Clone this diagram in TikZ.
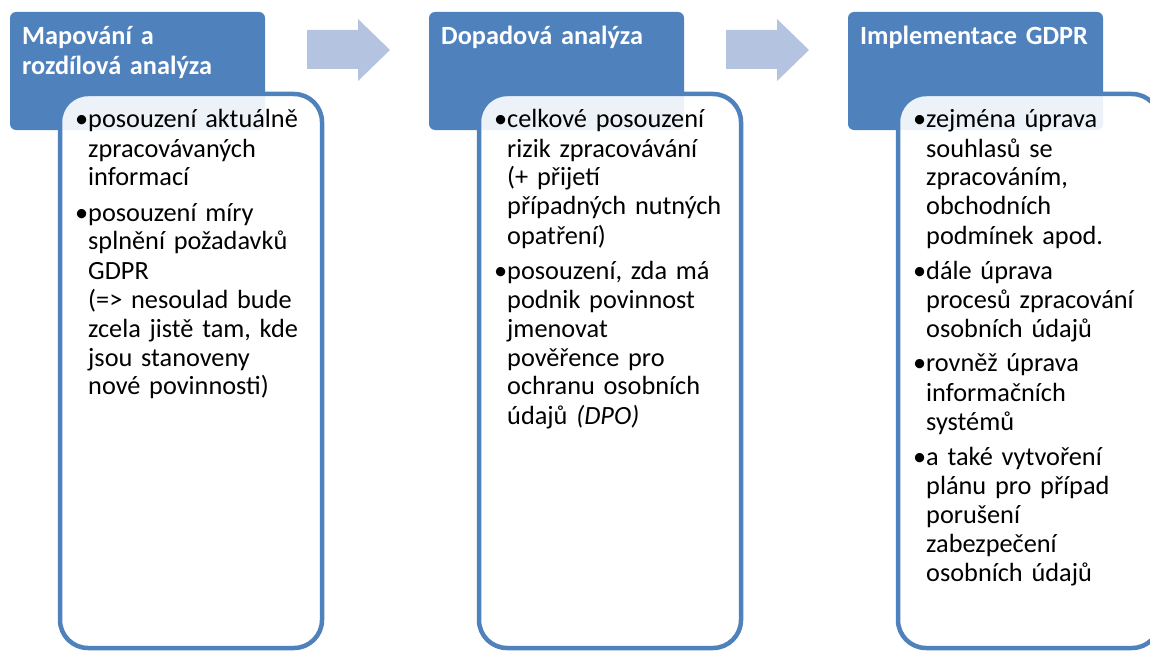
\documentclass[tikz,border=0pt]{standalone}
\usepackage{fontspec}
\setmainfont{Carlito}
\usetikzlibrary{positioning}
\definecolor{hdblue}{HTML}{4F81BD}
\definecolor{arrblue}{HTML}{B4C4E0}
\newcommand\itembul{\leavevmode\llap{•}}

\begin{document}
\begin{tikzpicture}[x=1pt, y=-1pt,
      head/.style={fill=hdblue, rounded corners=6pt},
      card/.style={draw=hdblue, line width=4.5pt, fill=white, fill opacity=0.9,
                   rounded corners=28pt},
      htext/.style={anchor=base west, inner sep=0pt, text width=260pt, align=left,
                    text=white, font=\bfseries\fontsize{26.3}{29.5}\selectfont},
      btext/.style={anchor=base west, inner sep=0pt, text width=260pt, align=left,
                    font=\fontsize{26.3}{29}\selectfont},
      blockarr/.style={fill=arrblue}]

    \useasboundingbox (0,0) rectangle (1150,650);
    \clip (0,0) rectangle (1150,650);

    \def\hs{419}  % horizontal spacing of the stages

    % Header tabs, cards overlapping them
    \foreach \i in {0,1,2} {
      \fill[head] (10+\i*\hs, 12) rectangle ++(255,118);
      \filldraw[card] (60+\i*\hs, 94) rectangle ++(262,554);
    }

    % Block arrows between the stages
    \foreach \i in {0,1}
      \fill[blockarr, xshift=\i*\hs] (307,30) -- (358,30) -- (358,19) -- (390,50)
            -- (358,81) -- (358,69) -- (307,69) -- cycle;

    % Stage titles
    \node[htext] (map)  at (22, 45)         {Mapování a\\rozdílová analýza};
    \node[htext] (dop)  at (22+\hs, 45)     {Dopadová analýza};
    \node[htext] (impl) at (22+2*\hs, 45)   {Implementace GDPR};

    % Card contents
    \node[btext] (mapitems) at (88, 128) {\itembul posouzení aktuálně\\
      zpracovávaných\\
      informací\\[6pt]
      \itembul posouzení míry\\
      splnění požadavků\\
      GDPR\\
      (=> nesoulad bude\\
      zcela jistě tam, kde\\
      jsou stanoveny\\
      nové povinnosti)};

    \node[btext] (dopitems) at (88+\hs, 128) {\itembul celkové posouzení\\
      rizik zpracovávání\\
      (+ přijetí\\
      případných nutných\\
      opatření)\\[6pt]
      \itembul posouzení, zda má\\
      podnik povinnost\\
      jmenovat\\
      pověřence pro\\
      ochranu osobních\\
      údajů \textit{(DPO)}};

    \node[btext] (implitems) at (88+2*\hs, 128) {\itembul zejména úprava\\
      souhlasů se\\
      zpracováním,\\
      obchodních\\
      podmínek apod.\\[6pt]
      \itembul dále úprava\\
      procesů zpracování\\
      osobních údajů\\[6pt]
      \itembul rovněž úprava\\
      informačních\\
      systémů\\[6pt]
      \itembul a také vytvoření\\
      plánu pro případ\\
      porušení\\
      zabezpečení\\
      osobních údajů};

\end{tikzpicture}
\end{document}
